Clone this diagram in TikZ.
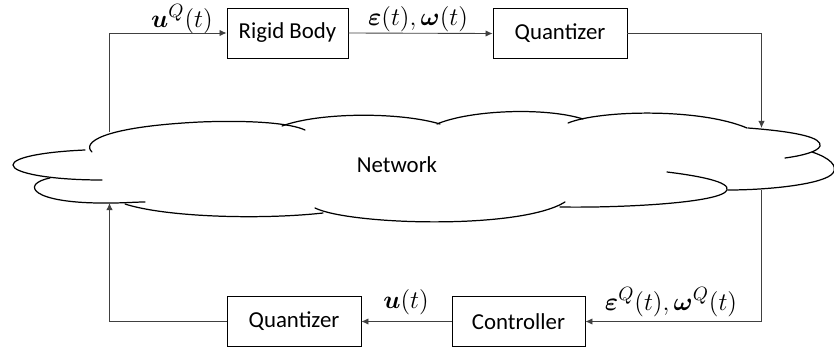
\documentclass[tikz,border=0pt]{standalone}
\usepackage{fontspec}
\setmainfont{Carlito}
\usepackage{bm}
\usetikzlibrary{arrows.meta}

\tikzset{
  blk/.style={draw, line width=0.5pt, minimum height=1cm, inner sep=0pt, font=\fontsize{13}{15}\selectfont},
  wire/.style={draw=black!75, line width=0.5pt},
  arr/.style={wire, -{Latex[length=4pt,width=3.6pt]}},
  lbl/.style={font=\fontsize{15}{18}\selectfont, inner sep=0pt},
  lobe/.style={line width=0.7pt, line cap=round},
}

\begin{document}
\begin{tikzpicture}[x=0.02cm,y=-0.02cm]
	\useasboundingbox (0,0) rectangle (834,355);
	% blocks
	\node[blk, minimum width=2.42cm] (body) at (287.5,33) {Rigid Body};
	\node[blk, minimum width=2.68cm] (quanTop) at (560,33.5) {Quantizer};
	\node[blk, minimum width=2.68cm] (quanBot) at (294,321.5) {Quantizer};
	\node[blk, minimum width=2.66cm] (ctrl) at (518.5,321.5) {Controller};
	\node[font=\fontsize{13}{15}\selectfont] (net) at (397,165) {Network};
	% signal labels
	\node[lbl] (uQ) at (182,19) {$\bm{u}^Q(t)$};
	\node[lbl] (state) at (418,19) {$\bm{\varepsilon}(t),\bm{\omega}(t)$};
	\node[lbl] (u) at (406,302) {$\bm{u}(t)$};
	\node[lbl] (stateQ) at (671,302) {$\bm{\varepsilon}^Q(t),\bm{\omega}^Q(t)$};
	% cloud
	\begin{scope}[lobe]
		\draw (92,152) .. controls (82,143) and (100,127) .. (200,122) .. controls (250,120) and (290,123) .. (305,130);
		\draw (282,126) .. controls (320,112) and (400,112) .. (440,124);
		\draw (437,124) .. controls (470,110) and (545,107) .. (583,119);
		\draw (568,123) .. controls (600,110) and (700,108) .. (747,128);
		\draw (748,128) .. controls (800,132) and (822,138) .. (820,146) .. controls (818,152) and (800,156) .. (785,158);
		\draw (812,152) .. controls (830,158) and (838,166) .. (833,173) .. controls (825,184) and (770,190) .. (728,190);
		\draw (667,172) .. controls (700,176) and (730,182) .. (727,190) .. controls (722,203) and (620,208) .. (560,207);
		\draw (315,208) .. controls (350,225) and (520,230) .. (565,202);
		\draw (125,204) .. controls (165,217) and (260,220) .. (323,213);
		\draw (50,178) .. controls (20,184) and (30,204) .. (110,203) .. controls (125,203) and (135,202) .. (145,202);
		\draw (85,150) .. controls (40,152) and (13,158) .. (13,165) .. controls (13,173) and (50,180) .. (102,180);
	\end{scope}
	% where the wires meet the cloud
	\coordinate (leftOut) at (109.5,132);
	\coordinate (leftIn) at (109.5,203);
	\coordinate (rightIn) at (761.5,128);
	\coordinate (rightOut) at (761.5,190);
	% wires
	\draw[arr] (leftOut) |- (body.west);
	\draw[arr] (body.east) -- (quanTop.west);
	\draw[arr] (quanTop.east) -| (rightIn);
	\draw[arr] (rightOut) |- (ctrl.east);
	\draw[arr] (ctrl.west) -- (quanBot.east);
	\draw[arr] (quanBot.west) -| (leftIn);
\end{tikzpicture}
\end{document}
